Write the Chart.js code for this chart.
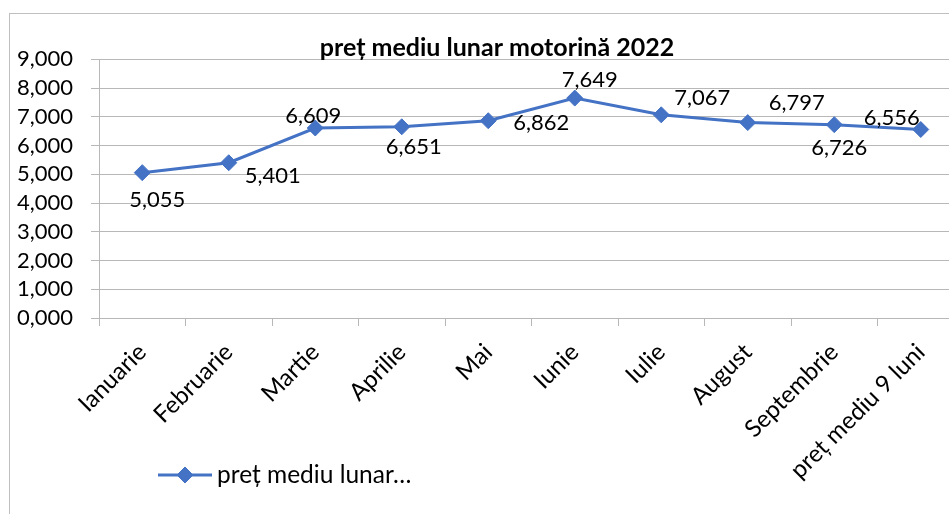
<!DOCTYPE html>
<html><head><meta charset="utf-8">
<script src="https://cdn.jsdelivr.net/npm/chart.js@4/dist/chart.umd.min.js"></script>
<style>
html,body{margin:0;padding:0;overflow:hidden;background:#fff;width:949px;height:514px}
#frame{position:absolute;left:9px;top:13px;width:1000px;height:600px;border-left:1px solid #bfbfbf;border-top:1px solid #bfbfbf}
#wrap{position:absolute;left:0;top:0;width:975px;height:514px}
canvas{display:block}
</style></head><body>
<div id="frame"></div>
<div id="wrap"><canvas id="c" width="975" height="514" style="width:975px;height:514px"></canvas></div>
<script>
const categories = ['Ianuarie','Februarie','Martie','Aprilie','Mai','Iunie','Iulie','August','Septembrie','preț mediu 9 luni'];
const prices = [5.055, 5.401, 6.609, 6.651, 6.862, 7.649, 7.067, 6.797, 6.726, 6.556];
const chartTitle = 'preț mediu lunar motorină 2022';
const legendLabel = 'preț mediu lunar…';
const yMin = 0;
const yMax = 9;
const yStep = 1;

// label placement (layout only)
const labelOffsets = [[15,26],[44,12],[-2,-13],[12,19],[53,1],[15,-19],[41,-18],[49,-21],[5,22],[-29,-13]];

const FONT = 'Lato';
const BLUE = '#4472C4';
const GRID = '#b8b8b8';
const fmt = v => Number(v).toFixed(3).replace('.', ',');

const dataLabels = {
  id: 'dataLabels',
  afterDatasetsDraw(chart) {
    const ctx = chart.ctx;
    const meta = chart.getDatasetMeta(0);
    const vals = chart.data.datasets[0].data;
    ctx.save();
    ctx.font = '22px ' + FONT;
    ctx.fillStyle = '#000';
    ctx.textAlign = 'center';
    ctx.textBaseline = 'middle';
    meta.data.forEach((pt, i) => {
      const o = labelOffsets[i];
      ctx.fillText(fmt(vals[i]), pt.x + o[0], pt.y + o[1] + 1);
    });
    ctx.restore();
  }
};

// centre the title block like the original (spans from the frame edge to the plot's right end)
const titleBox = {
  id: 'titleBox',
  afterLayout(chart) {
    const t = chart.titleBlock;
    if (t) { t.left = 30; t.right = chart.chartArea.right; }
  }
};

const excelLegend = {
  id: 'excelLegend',
  afterDraw(chart) {
    const ctx = chart.ctx;
    const ds = chart.data.datasets[0];
    const y = 475, x0 = 158, x1 = 212;
    ctx.save();
    ctx.strokeStyle = ds.borderColor;
    ctx.lineWidth = ds.borderWidth;
    ctx.beginPath(); ctx.moveTo(x0, y); ctx.lineTo(x1, y); ctx.stroke();
    ctx.fillStyle = ds.pointBackgroundColor;
    ctx.strokeStyle = ds.pointBorderColor;
    ctx.lineWidth = ds.pointBorderWidth;
    Chart.helpers.drawPoint(ctx, {pointStyle: ds.pointStyle, radius: ds.pointRadius, borderWidth: ds.pointBorderWidth, rotation: 0}, (x0 + x1) / 2, y);
    ctx.font = '24.5px ' + FONT;
    ctx.fillStyle = '#000';
    ctx.textAlign = 'left';
    ctx.textBaseline = 'middle';
    ctx.fillText(legendLabel, x1 + 5, y);
    ctx.restore();
  }
};

new Chart(document.getElementById('c'), {
  type: 'line',
  data: {
    labels: categories,
    datasets: [{
      label: legendLabel,
      data: prices,
      borderColor: BLUE,
      backgroundColor: BLUE,
      borderWidth: 3,
      pointStyle: 'rectRot',
      pointRadius: 8,
      pointHoverRadius: 8,
      pointBackgroundColor: BLUE,
      pointBorderColor: BLUE,
      pointBorderWidth: 1,
      tension: 0,
      fill: false
    }]
  },
  options: {
    responsive: false,
    animation: false,
    devicePixelRatio: 1,
    layout: { padding: { left: 0, right: 11, top: 36, bottom: 16 } },
    plugins: {
      legend: { display: false },
      tooltip: { enabled: false },
      title: {
        display: true,
        text: chartTitle,
        color: '#000',
        font: { family: FONT, size: 25, weight: 'bold', lineHeight: 0.93 },
        padding: { top: 0, bottom: 0 }
      }
    },
    scales: {
      x: {
        offset: true,
        afterFit(s) { s.height = 180; },
        grid: { offset: true, drawOnChartArea: false, drawTicks: true, tickLength: 8, color: GRID, lineWidth: 1 },
        border: { display: true, color: GRID, width: 1 },
        ticks: { autoSkip: false, minRotation: 45, maxRotation: 45, padding: 12, color: '#000', font: { family: FONT, size: 24 } }
      },
      y: {
        min: yMin,
        max: yMax,
        afterFit(s) { s.width = 99; },
        grid: { color: GRID, lineWidth: 1, drawTicks: true, tickLength: 8 },
        border: { display: true, color: GRID, width: 1 },
        ticks: { stepSize: yStep, autoSkip: false, padding: 18, color: '#000', font: { family: FONT, size: 22 }, callback: v => fmt(v) }
      }
    }
  },
  plugins: [titleBox, dataLabels, excelLegend]
});
</script>
</body></html>
